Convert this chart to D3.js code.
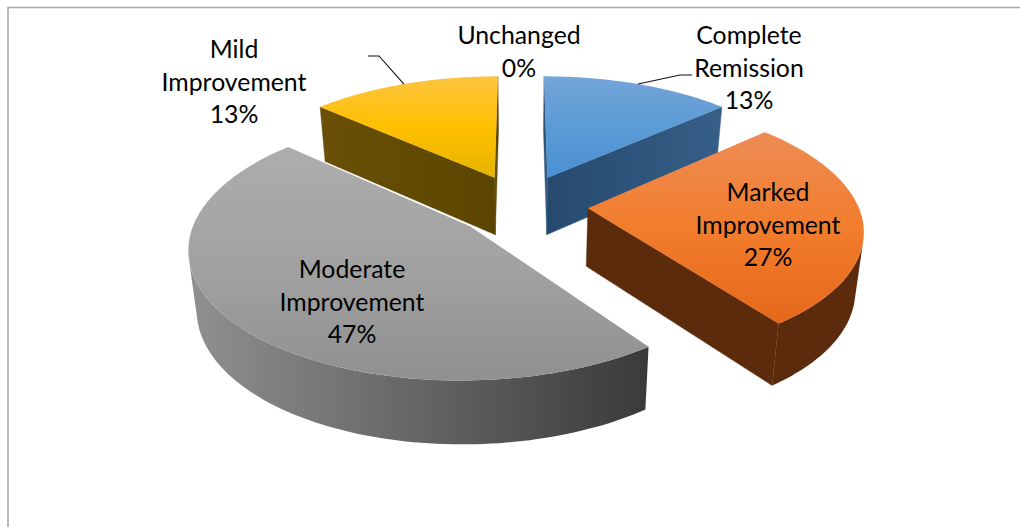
<!DOCTYPE html>
<html>
<head>
<meta charset="utf-8">
<script src="https://cdnjs.cloudflare.com/ajax/libs/d3/7.8.5/d3.min.js"></script>
<style>
    html, body { margin: 0; padding: 0; background: #fff; }
    svg { display: block; }
    text { font-family: Lato, "Open Sans", sans-serif; font-size: 24.8px; fill: #000; }
</style>
</head>
<body>
<div id="chart"></div>
<script>
// Chart data, clockwise from twelve o'clock. Counts estimated from the printed shares (of 15)
const categories = ["Complete Remission", "Marked Improvement", "Moderate Improvement", "Mild Improvement", "Unchanged"];
const labelLines = [["Complete", "Remission"], ["Marked", "Improvement"], ["Moderate", "Improvement"], ["Mild", "Improvement"], ["Unchanged"]];
const counts = [2, 4, 7, 2, 0];

// Slice styles, same order as the categories
const topStops = [
    ["#74a5d9", "#5b9bd5", "#4a90d4"],
    ["#ee8c55", "#f27d2c", "#e5681a"],
    ["#adadad", "#a2a2a2", "#909090"],
    ["#fcc43f", "#ffc000", "#e6b400"],
    ["#fff", "#fff", "#fff"]
];
const sideStops = [
    ["#26496f", "#365f87"],
    ["#5c2b0b", "#5c2b0b"],
    ["#909090", "#3a3a3a"],
    ["#6a5006", "#5a4500"],
    ["#fff", "#fff"]
];
const drawOrder = [0, 3, 2, 1];

// Label anchors and leader lines
const labelCentres = [[749, 44], [768, 201], [352, 278], [234, 58], [519, 44]];
const leaderElbows = { 0: [[680, 75], [692, 75]], 3: [[379, 56], [368, 56]] };

const width = 1020;
const height = 527;
const lineStep = 32.5;

// Projection of the tilted pie: receding plane with mild perspective
const view = { cx: 521, cy: 205, radius: 270, explode: 67, tilt: 0.46, distance: 1800, depth: 58, taper: 0.975 };

function project(slice, theta, r, bottom) {
    const mid = (slice.startAngle + slice.endAngle) / 2;
    const X = view.explode * Math.sin(mid) + r * Math.sin(theta);
    const Y = -view.explode * Math.cos(mid) - r * Math.cos(theta);
    const k = 1 / (1 - Y / view.distance);
    let x = X * k;
    let y = Y * view.tilt * k;
    if (bottom) {
        x *= view.taper;
        y += view.depth * Math.sqrt(k);
    }
    return [view.cx + x, view.cy + y];
}

function signedArea(pts) {
    return d3.polygonArea(pts);
}

const svg = d3.select('#chart').append('svg')
    .attr('width', width)
    .attr('height', height);

const defs = svg.append('defs');

const pie = d3.pie().sort(null).value(d => d);
const slices = pie(counts);
const total = d3.sum(counts);
const formatShare = d3.format('.0%');

// Chart frame, only top and left edges show in the crop
svg.append('path')
    .attr('d', d3.line()([[1020, 7.5], [8, 7.5], [8, 527]]))
    .attr('fill', 'none')
    .attr('stroke', '#a9a9a9')
    .attr('stroke-width', 1.6);

const polygonPath = d3.line().curve(d3.curveLinearClosed);

drawOrder.forEach(i => {
    const slice = slices[i];
    const g = svg.append('g').attr('class', 'slice');

    // Vertical gradient on the top face
    const topGrad = defs.append('linearGradient')
        .attr('id', `top-${i}`)
        .attr('x1', 0).attr('y1', 0).attr('x2', 0).attr('y2', 1);
    topStops[i].forEach((c, j) => {
        topGrad.append('stop').attr('offset', j / 2).attr('stop-color', c);
    });

    // Horizontal gradient on the sides
    const sideGrad = defs.append('linearGradient')
        .attr('id', `side-${i}`)
        .attr('x1', 0).attr('y1', 0).attr('x2', 1).attr('y2', 0);
    sideStops[i].forEach((c, j) => {
        sideGrad.append('stop').attr('offset', j).attr('stop-color', c);
    });

    const angles = d3.range(0, 121).map(t => slice.startAngle + (slice.endAngle - slice.startAngle) * t / 120);

    // Radial walls, kept only when they face the viewer
    const walls = [
        { theta: slice.startAngle, sign: 1 },
        { theta: slice.endAngle, sign: -1 }
    ];
    walls.forEach(w => {
        const pts = [
            project(slice, w.theta, 0, false),
            project(slice, w.theta, view.radius, false),
            project(slice, w.theta, view.radius, true),
            project(slice, w.theta, 0, true)
        ];
        if (signedArea(pts) * w.sign > 0) {
            g.append('path')
                .attr('d', polygonPath(pts))
                .attr('fill', `url(#side-${i})`)
                .attr('stroke', sideStops[i][1])
                .attr('stroke-width', 0.4);
        }
    });

    // Outer rim: only the run of steps that faces the viewer
    const rimVisible = angles.slice(0, -1).map((a, j) => {
        const b = angles[j + 1];
        const quad = [
            project(slice, a, view.radius, false),
            project(slice, b, view.radius, false),
            project(slice, b, view.radius, true),
            project(slice, a, view.radius, true)
        ];
        return signedArea(quad) > 0 ? [a, b] : null;
    }).filter(d => d);

    if (rimVisible.length) {
        const run = rimVisible.map(d => d[0]).concat([rimVisible[rimVisible.length - 1][1]]);
        const rimPts = run.map(a => project(slice, a, view.radius, false))
            .concat(run.slice().reverse().map(a => project(slice, a, view.radius, true)));
        g.append('path')
            .attr('d', polygonPath(rimPts))
            .attr('fill', `url(#side-${i})`);
    }

    // Top face
    const topPts = [project(slice, 0, 0, false)]
        .concat(angles.map(a => project(slice, a, view.radius, false)));
    g.append('path')
        .attr('d', polygonPath(topPts))
        .attr('fill', `url(#top-${i})`);
});

// Leader lines from rim midpoint to the outside labels
Object.keys(leaderElbows).forEach(key => {
    const slice = slices[+key];
    const mid = (slice.startAngle + slice.endAngle) / 2;
    const start = project(slice, mid, view.radius, false);
    svg.append('path')
        .attr('d', d3.line()([start].concat(leaderElbows[key])))
        .attr('fill', 'none')
        .attr('stroke', '#111')
        .attr('stroke-width', 1.1);
});

// Data labels
categories.forEach((name, i) => {
    const lines = labelLines[i].concat(formatShare(counts[i] / total));
    const label = svg.append('text')
        .attr('class', 'data-label')
        .attr('text-anchor', 'middle');
    lines.forEach((line, j) => {
        label.append('tspan')
            .attr('x', labelCentres[i][0])
            .attr('y', labelCentres[i][1] + j * lineStep)
            .text(line);
    });
});
</script>
</body>
</html>
